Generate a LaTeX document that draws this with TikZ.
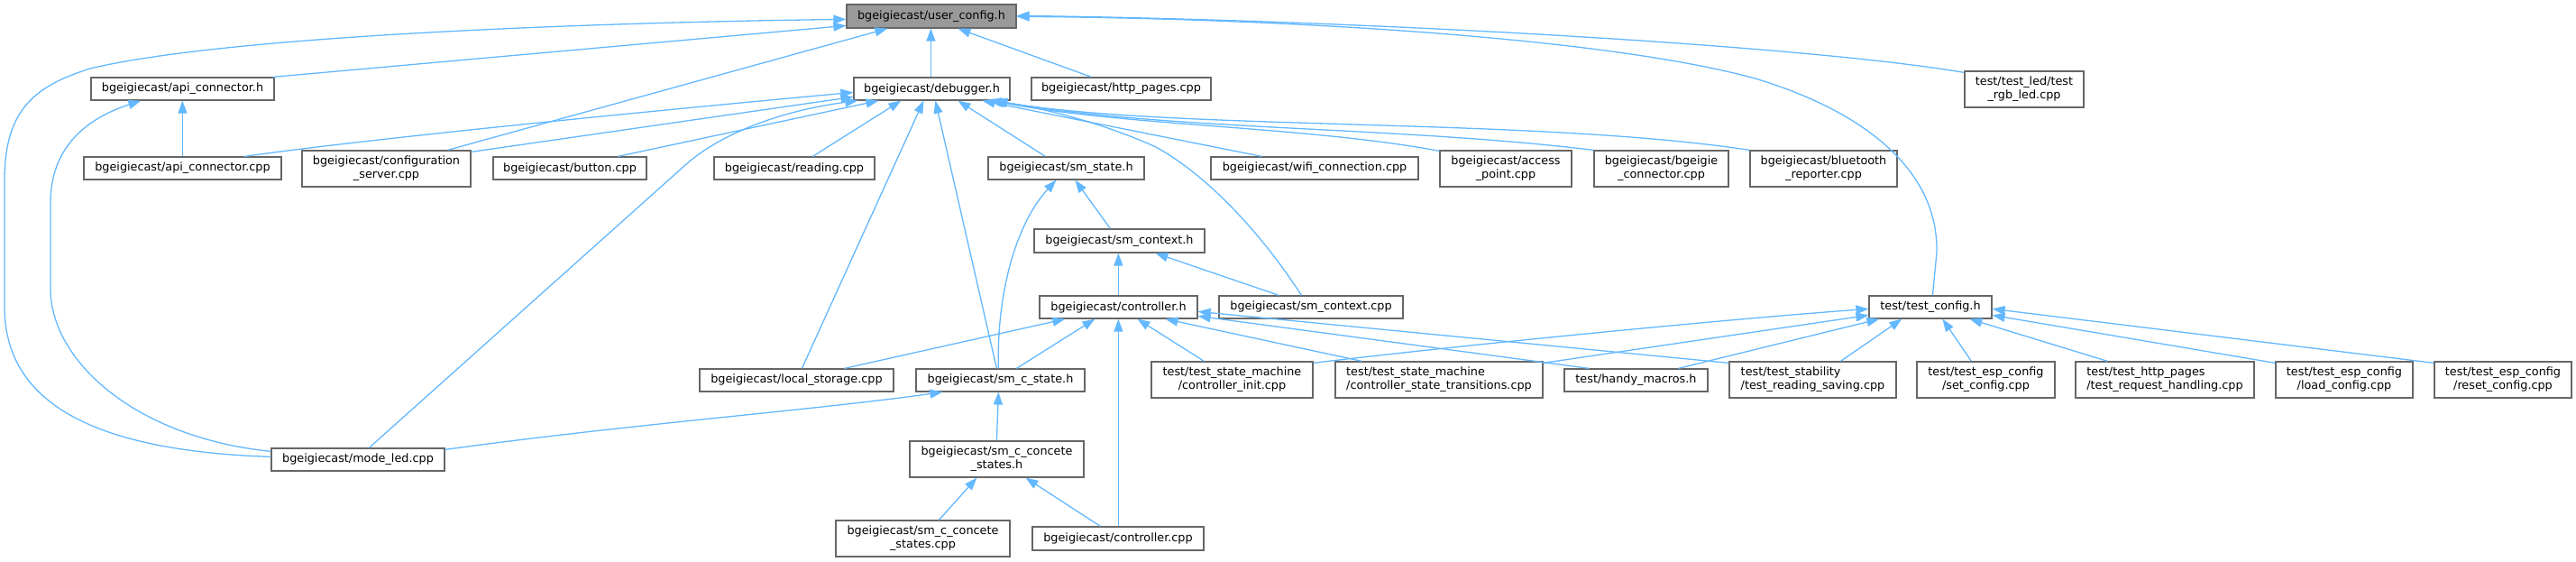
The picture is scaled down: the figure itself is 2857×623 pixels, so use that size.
\documentclass[tikz,border=0pt]{standalone}
\usepackage{fontspec}
\setmainfont{DejaVu Sans}
\usetikzlibrary{arrows.meta}
\definecolor{edgeblue}{HTML}{63B8FF}
\definecolor{bordergray}{HTML}{666666}
\definecolor{ucgray}{HTML}{999999}
\tikzset{
  box/.style={draw=bordergray, fill=white, line width=1.2pt, inner sep=0pt, align=center,
    font=\fontsize{12.8}{15}\selectfont},
  edge/.style={draw=edgeblue, line width=1.3pt, -{Triangle[length=14pt,width=10pt]}}
}
\newcommand\nd[7]{\node[box,#2, minimum width={(#5-#3)*1pt}, minimum height={(#6-#4)*1pt}] (#1) at ({(#3+#5)/2},{(#4+#6)/2}) {#7};}
\begin{document}
\begin{tikzpicture}[x=1pt,y=-1pt]
\useasboundingbox (0,0) rectangle (2857,623);
\nd{UC}{fill=ucgray}{939}{5}{1127}{31}{bgeigiecast/user\_config.h}
\nd{AH}{}{101}{86}{304}{111}{bgeigiecast/api\_connector.h}
\nd{DB}{}{947}{86}{1120}{111}{bgeigiecast/debugger.h}
\nd{HP}{}{1144}{86}{1343}{111}{bgeigiecast/http\_pages.cpp}
\nd{TRGB}{}{2179}{79}{2311}{119}{test/test\_led/test\\\_rgb\_led.cpp}
\nd{AC}{}{93}{174}{312}{199}{bgeigiecast/api\_connector.cpp}
\nd{CS}{}{335}{167}{522}{207}{bgeigiecast/configuration\\\_server.cpp}
\nd{BT}{}{547}{174}{717}{199}{bgeigiecast/button.cpp}
\nd{RD}{}{792}{174}{970}{199}{bgeigiecast/reading.cpp}
\nd{SS}{}{1096}{174}{1269}{199}{bgeigiecast/sm\_state.h}
\nd{WF}{}{1343}{174}{1573}{199}{bgeigiecast/wifi\_connection.cpp}
\nd{AP}{}{1597}{167}{1743}{207}{bgeigiecast/access\\\_point.cpp}
\nd{BC}{}{1768}{167}{1917}{207}{bgeigiecast/bgeigie\\\_connector.cpp}
\nd{BR}{}{1941}{167}{2104}{207}{bgeigiecast/bluetooth\\\_reporter.cpp}
\nd{SC}{}{1147}{254}{1336}{280}{bgeigiecast/sm\_context.h}
\nd{CT}{}{1153}{328}{1328}{353}{bgeigiecast/controller.h}
\nd{SCC}{}{1352}{328}{1556}{353}{bgeigiecast/sm\_context.cpp}
\nd{TC}{}{2073}{328}{2209}{353}{test/test\_config.h}
\nd{LS}{}{776}{409}{991}{434}{bgeigiecast/local\_storage.cpp}
\nd{SCS}{}{1016}{409}{1203}{434}{bgeigiecast/sm\_c\_state.h}
\nd{CI}{}{1277}{401}{1456}{441}{test/test\_state\_machine\\/controller\_init.cpp}
\nd{CST}{align=left}{1481}{401}{1711}{441}{test/test\_state\_machine\\/controller\_state\_transitions.cpp}
\nd{HM}{}{1735}{409}{1894}{434}{test/handy\_macros.h}
\nd{TRS}{align=left}{1918}{401}{2103}{441}{test/test\_stability\\/test\_reading\_saving.cpp}
\nd{SET}{}{2126}{401}{2279}{441}{test/test\_esp\_config\\/set\_config.cpp}
\nd{TRH}{align=left}{2302}{401}{2500}{441}{test/test\_http\_pages\\/test\_request\_handling.cpp}
\nd{LC}{}{2524}{401}{2676}{441}{test/test\_esp\_config\\/load\_config.cpp}
\nd{RC}{}{2700}{401}{2852}{441}{test/test\_esp\_config\\/reset\_config.cpp}
\nd{ML}{}{301}{497}{493}{522}{bgeigiecast/mode\_led.cpp}
\nd{SCCH}{}{1009}{489}{1202}{529}{bgeigiecast/sm\_c\_concete\\\_states.h}
\nd{SCCC}{}{927}{577}{1120}{617}{bgeigiecast/sm\_c\_concete\\\_states.cpp}
\nd{CC}{}{1145}{584}{1335}{610}{bgeigiecast/controller.cpp}
% edges to user_config.h
\draw[edge] ([xshift=-2pt]AH.north east) -- ([yshift=-24pt]UC.north west);
\draw[edge] ([yshift=-10pt]ML.north west) .. controls (110,500) and (5,450) .. (5,340) -- (5,200) .. controls (5,120) and (40,95) .. (100,76) .. controls (250,40) and (650,25) .. ([yshift=-17pt]UC.north west);
\draw[edge] ([yshift=-4pt]ML.north west) .. controls (150,485) and (56,400) .. (56,320) -- (56,225) .. controls (56,160) and (100,130) .. ([xshift=56pt]AH.south west);
\draw[edge] ([xshift=162pt]CS.north west) -- ([xshift=46pt]UC.south west);
\draw[edge] ([xshift=86pt]DB.north west) -- ([xshift=94pt]UC.south west);
\draw[edge] ([xshift=67pt]HP.north west) -- ([xshift=124pt]UC.south west);
\draw[edge] ([yshift=-2pt]TRGB.north west) .. controls (2000,50) and (1500,22) .. ([yshift=-13pt]UC.north east);
\draw[edge] ([xshift=71pt]TC.north west) -- (2148,280) .. controls (2150,190) and (2070,125) .. (1950,88) .. controls (1780,40) and (1400,20) .. ([yshift=-14pt]UC.north east);
% api_connector.h
\draw[edge] ([xshift=110pt]AC.north west) -- ([xshift=102pt]AH.south west);
% debugger.h
\draw[edge] ([xshift=179pt]AC.north west) .. controls (400,155) and (700,125) .. ([yshift=-17pt]DB.north west);
\draw[edge] ([yshift=-2pt]CS.north east) -- ([yshift=-22pt]DB.north west);
\draw[edge] ([xshift=139pt]BT.north west) -- ([xshift=28pt]DB.south west);
\draw[edge] ([xshift=109pt]ML.north west) -- (760,183) .. controls (800,147) and (870,122) .. ([xshift=5pt]DB.south west);
\draw[edge] ([xshift=110pt]RD.north west) -- ([xshift=53pt]DB.south west);
\draw[edge] ([xshift=114pt]LS.north west) -- ([xshift=78pt]DB.south west);
\draw[edge] ([xshift=90pt]SCS.north west) -- ([xshift=91pt]DB.south west);
\draw[edge] ([xshift=64pt]SS.north west) -- ([xshift=116pt]DB.south west);
\draw[edge] ([xshift=57pt]WF.north west) -- ([xshift=143pt]DB.south west);
\draw[edge] ([xshift=92pt]SCC.north west) .. controls (1400,260) and (1340,195) .. (1282,163) .. controls (1220,135) and (1150,118) .. ([xshift=150pt]DB.south west);
\draw[edge] ([yshift=-1pt]AP.north west) .. controls (1450,140) and (1250,140) .. ([xshift=153pt]DB.south west);
\draw[edge] (BC.north west) .. controls (1550,140) and (1300,145) .. ([xshift=155pt]DB.south west);
\draw[edge] (BR.north west) .. controls (1700,130) and (1300,145) .. ([xshift=157pt]DB.south west);
% sm_state.h
\draw[edge] ([xshift=85pt]SC.north west) -- ([xshift=97pt]SS.south west);
\draw[edge] ([xshift=92pt]SCS.north west) .. controls (1105,330) and (1125,250) .. ([xshift=76pt]SS.south west);
% sm_context.h
\draw[edge] ([xshift=88pt]CT.north west) -- ([xshift=94pt]SC.south west);
\draw[edge] ([xshift=67pt]SCC.north west) -- ([xshift=135pt]SC.south west);
% controller.h
\draw[edge] ([xshift=161pt]LS.north west) -- ([xshift=29pt]CT.south west);
\draw[edge] ([xshift=112pt]SCS.north west) -- ([xshift=62pt]CT.south west);
\draw[edge] ([xshift=96pt]CC.north west) -- ([xshift=88pt]CT.south west);
\draw[edge] ([xshift=59pt]CI.north west) -- ([xshift=109pt]CT.south west);
\draw[edge] ([xshift=30pt]CST.north west) -- ([xshift=140pt]CT.south west);
\draw[edge] ([xshift=28pt]HM.north west) -- ([yshift=-23pt]CT.north east);
\draw[edge] ([yshift=-2pt]TRS.north west) -- ([yshift=-18pt]CT.north east);
% sm_c_state.h
\draw[edge] ([yshift=-2pt]ML.north east) .. controls (700,470) and (900,455) .. ([xshift=30pt]SCS.south west);
\draw[edge] ([xshift=97pt]SCCH.north west) -- ([xshift=92pt]SCS.south west);
% sm_c_concete_states.h
\draw[edge] ([xshift=115pt]SCCC.north west) -- ([xshift=75pt]SCCH.south west);
\draw[edge] ([xshift=76pt]CC.north west) -- ([xshift=129pt]SCCH.south west);
% test_config.h
\draw[edge] ([yshift=-2pt]CI.north east) .. controls (1600,385) and (1900,355) .. ([yshift=-15pt]TC.north west);
\draw[edge] ([yshift=-2pt]CST.north east) -- ([yshift=-22pt]TC.north west);
\draw[edge] ([xshift=127pt]HM.north west) -- ([xshift=12pt]TC.south west);
\draw[edge] ([xshift=124pt]TRS.north west) -- ([xshift=37pt]TC.south west);
\draw[edge] ([xshift=61pt]SET.north west) -- ([xshift=82pt]TC.south west);
\draw[edge] ([xshift=36pt]TRH.north west) -- ([xshift=112pt]TC.south west);
\draw[edge] ([yshift=-2pt]LC.north west) -- ([yshift=-22pt]TC.north east);
\draw[edge] ([yshift=-2pt]RC.north west) -- ([yshift=-15pt]TC.north east);
\end{tikzpicture}
\end{document}
